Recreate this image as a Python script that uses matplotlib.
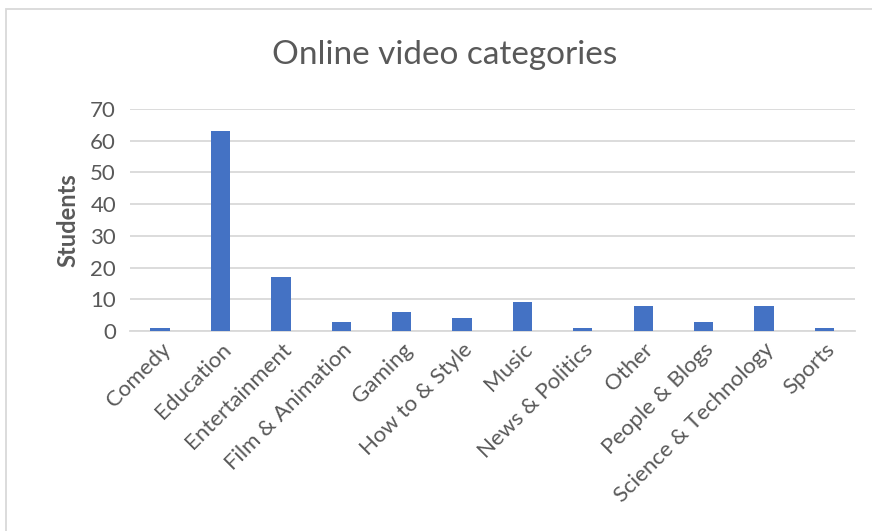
import matplotlib.pyplot as plt
from matplotlib.patches import Rectangle

# category counts from the survey
categories = ["Comedy", "Education", "Entertainment", "Film & Animation", "Gaming",
              "How to & Style", "Music", "News & Politics", "Other", "People & Blogs",
              "Science & Technology", "Sports"]
students = [1, 63, 17, 3, 6, 4, 9, 1, 8, 3, 8, 1]
yticks = [0, 10, 20, 30, 40, 50, 60, 70]

plt.rcParams['font.family'] = ['Lato', 'DejaVu Sans']
text_color = "#595959"

fig = plt.figure(figsize=(8.72, 5.31), dpi=100)
ax = fig.add_axes([0.149, 0.3766, 0.831, 0.418])

# chart frame
fig.patches.append(Rectangle((6 / 872, -0.05), 1.0, 1 - 9 / 531 + 0.05,
                             transform=fig.transFigure, fill=False,
                             edgecolor="#d9d9d9", linewidth=1.3))

x = range(len(categories))
ax.bar(x, students, width=0.32, color="#4472C4", zorder=3)

ax.set_xlim(-0.5, len(categories) - 0.5)
ax.set_ylim(0, 70)
ax.set_yticks(yticks)
ax.yaxis.grid(True, color="#d9d9d9", linewidth=1.3)
ax.set_axisbelow(True)
for s in ["top", "right", "left"]:
    ax.spines[s].set_visible(False)
ax.spines["bottom"].set_color("#d9d9d9")
ax.spines["bottom"].set_linewidth(1.3)
ax.tick_params(axis="both", length=0, labelsize=16, labelcolor=text_color)
ax.tick_params(axis="y", pad=10)
ax.tick_params(axis="x", pad=6)

ax.set_xticks(list(x))
ax.set_xticklabels(categories, rotation=45, ha="right", rotation_mode="anchor")

ax.set_ylabel("Students", fontsize=17, color=text_color, fontweight="bold", labelpad=8)
fig.text(0.51, 0.896, "Online video categories", ha="center", va="center",
         fontsize=24, color=text_color)

fig.savefig("out.png", dpi=100)
